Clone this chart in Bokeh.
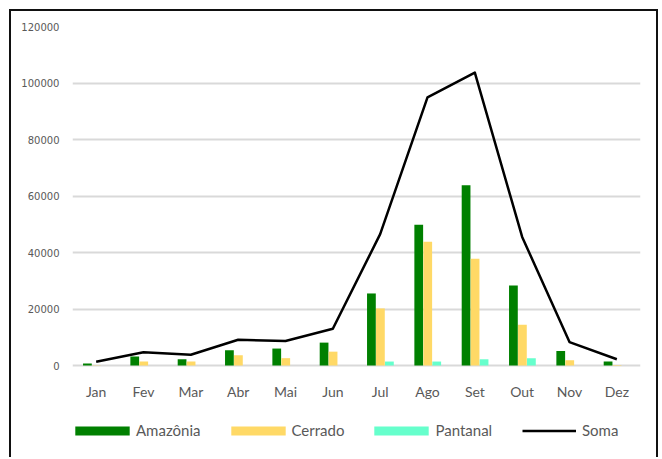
from bokeh.plotting import figure
from bokeh.models import (ColumnDataSource, FixedTicker, NumeralTickFormatter,
                          Legend, LegendItem, Range1d)
from bokeh.core.properties import value
from bokeh.transform import dodge
from bokeh.embed import file_html
from bokeh.resources import INLINE

meses = ["Jan", "Fev", "Mar", "Abr", "Mai", "Jun", "Jul", "Ago", "Set", "Out", "Nov", "Dez"]
amazonia = [700, 3200, 2200, 5400, 6000, 8100, 25500, 49800, 63800, 28300, 5100, 1400]
cerrado = [100, 1400, 1400, 3600, 2600, 4900, 20200, 43800, 37800, 14400, 1900, 200]
pantanal = [0, 0, 0, 0, 0, 0, 1400, 1400, 2200, 2600, 0, 0]
soma = [1300, 4700, 3800, 9100, 8700, 13000, 46500, 94900, 103700, 45500, 8300, 2200]
y_ticks = [0, 20000, 40000, 60000, 80000, 100000, 120000]

FONT = "Lato"
TXT = "#595959"
C_AMZ, C_CER, C_PAN = "#008000", "#FFD966", "#66FFCC"

# layout (pixels)
Y_MAX = 120000
PLOT_H = 339          # px between 0 and 120000
BELOW = 94            # px below the 0 line (category labels + legend)
px = Y_MAX / PLOT_H   # data units per pixel
y_start = -BELOW * px

source = ColumnDataSource(dict(mes=meses, amazonia=amazonia, cerrado=cerrado,
                               pantanal=pantanal, soma=soma))
lab_src = ColumnDataSource(dict(mes=meses, y=[-26 * px] * len(meses)))

p = figure(x_range=meses, y_range=Range1d(y_start, Y_MAX),
           width=649, height=448, output_backend="svg", toolbar_location=None,
           min_border_left=61, min_border_right=20, min_border_top=15, min_border_bottom=0)
p.styles = {"margin-left": "9px", "margin-top": "9px",
            "border-top": "2px solid #111111", "border-left": "2px solid #111111",
            "border-right": "2px solid #111111"}
p.outline_line_color = None
p.background_fill_color = "white"
p.border_fill_color = "white"
p.xaxis.visible = False

r1 = p.vbar(x=dodge("mes", -0.185, range=p.x_range), top="amazonia", width=0.185,
            source=source, fill_color=C_AMZ, line_color=None)
r2 = p.vbar(x=dodge("mes", 0.005, range=p.x_range), top="cerrado", width=0.185,
            source=source, fill_color=C_CER, line_color=None)
r3 = p.vbar(x=dodge("mes", 0.195, range=p.x_range), top="pantanal", width=0.185,
            source=source, fill_color=C_PAN, line_color=None)
r4 = p.line(x="mes", y="soma", source=source, line_color="black", line_width=2.5,
            line_join="round")

# category labels
p.text(x="mes", y="y", text="mes", source=lab_src, text_font=value(FONT),
       text_font_size="14px", text_color=TXT, text_align="center",
       text_baseline="alphabetic")

p.xgrid.grid_line_color = None
p.ygrid.grid_line_color = "#D9D9D9"
p.ygrid.grid_line_width = 1.8
p.ygrid.ticker = FixedTicker(ticks=y_ticks)
p.yaxis.ticker = FixedTicker(ticks=y_ticks)
p.yaxis.formatter = NumeralTickFormatter(format="0")
yax = p.yaxis[0]
yax.axis_line_color = None
yax.major_tick_line_color = None
yax.minor_tick_line_color = None
yax.major_label_text_color = TXT
yax.major_label_text_font = "DejaVu Sans"
yax.major_label_text_font_size = "10px"
yax.major_label_standoff = 7

common = dict(orientation="horizontal", padding=0, margin=0, label_height=15,
              label_text_font=FONT, label_text_font_size="15px",
              label_text_color=TXT, background_fill_alpha=0, border_line_color=None)

leg_bars = Legend(items=[LegendItem(label="Amazônia", renderers=[r1]),
                         LegendItem(label="Cerrado", renderers=[r2]),
                         LegendItem(label="Pantanal", renderers=[r3])],
                  location=(-4, 20), glyph_width=68, glyph_height=11,
                  label_standoff=0, spacing=23, **common)
leg_line = Legend(items=[LegendItem(label="Soma", renderers=[r4])],
                  location=(450, 20), glyph_width=54, glyph_height=11,
                  label_standoff=6, spacing=0, **common)
p.add_layout(leg_bars)
p.add_layout(leg_line)

open("out.html", "w").write(file_html(p, INLINE))
